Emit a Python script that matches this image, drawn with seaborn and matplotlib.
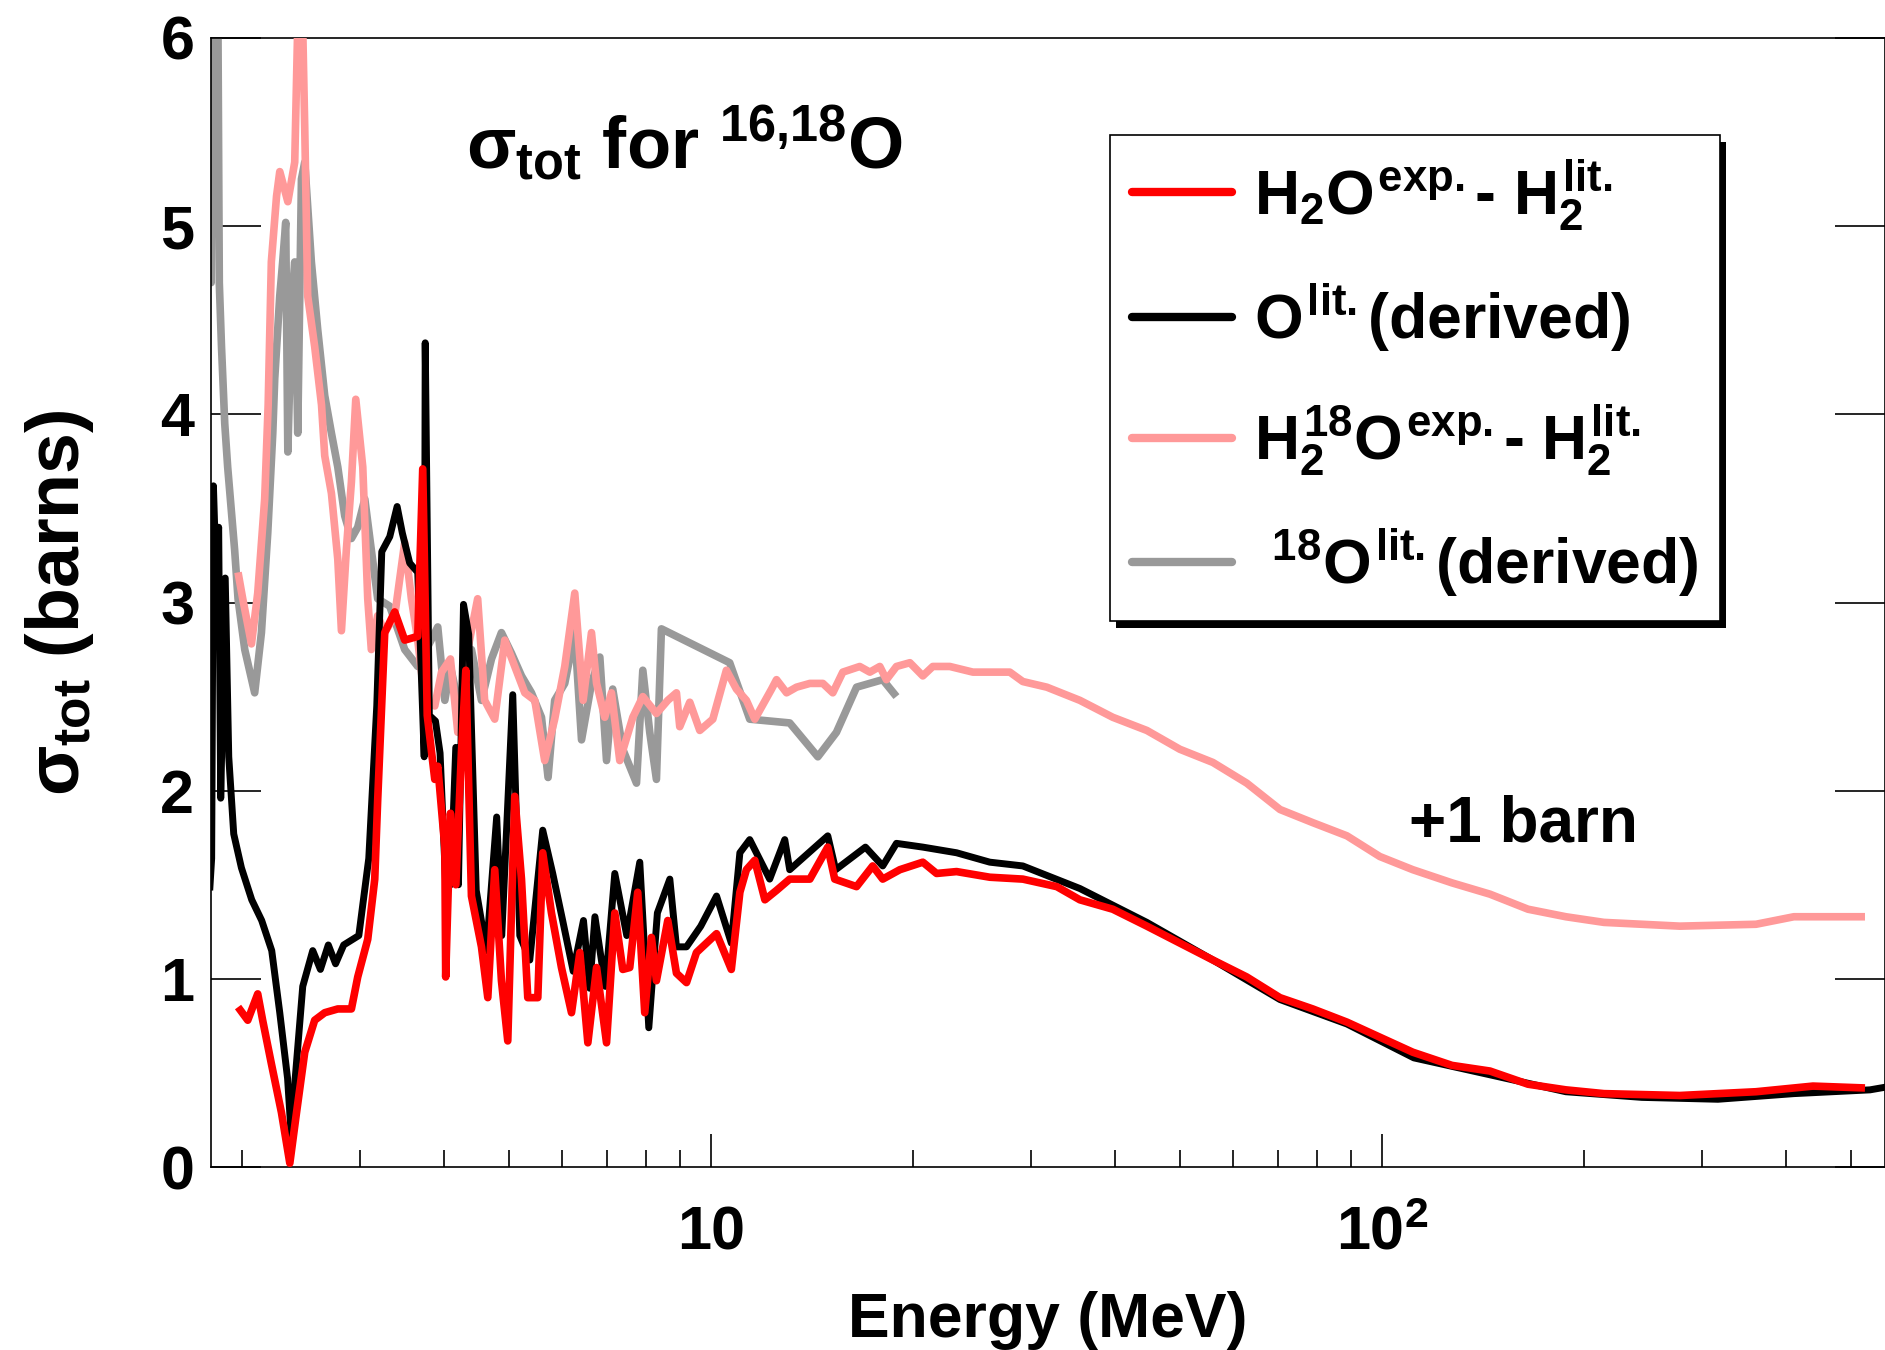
import matplotlib
matplotlib.use("Agg")
import matplotlib.pyplot as plt
import matplotlib.transforms as mtransforms
from matplotlib.patches import Rectangle
from matplotlib.lines import Line2D
from matplotlib.ticker import FixedLocator, FixedFormatter, LogLocator, NullFormatter, NullLocator
import numpy as np
import pandas as pd
import seaborn as sns

# ---------------- data ----------------
# H2O(exp.) - H2(lit.)  [red]
red_E = [1.975, 2.042, 2.113, 2.149, 2.214, 2.292, 2.359, 2.414, 2.483, 2.569, 2.659, 2.781,
         2.914, 2.978, 3.082, 3.157, 3.189, 3.267, 3.381, 3.499, 3.659, 3.722, 3.78, 3.879,
         3.919, 4.015, 4.027, 4.093, 4.17, 4.25, 4.315, 4.399, 4.553, 4.653, 4.765, 4.876,
         4.983, 5.104, 5.223, 5.337, 5.524, 5.618, 5.789, 5.991, 6.201, 6.381, 6.559, 6.758,
         6.993, 7.194, 7.394, 7.573, 7.783, 7.972, 8.157, 8.299, 8.628, 8.889, 9.201, 9.521,
         10.20, 10.73, 11.05, 11.30, 11.63, 12.04, 12.53, 13.11, 14.05, 14.94, 15.30, 16.49,
         17.43, 18.04, 19.13, 20.70, 21.70, 23.24, 26.05, 29.17, 32.78, 35.48, 39.72, 44.65,
         50.0, 56.0, 62.9, 70.5, 78.9, 88.7, 99.3, 111.2, 127.2, 144.9, 165.1, 188.0, 214.2,
         278.0, 361.0, 438.9, 524.7]
red_sigma = [0.85, 0.78, 0.92, 0.78, 0.55, 0.29, 0.02, 0.29, 0.61, 0.78, 0.82, 0.84,
             0.84, 1.01, 1.21, 1.53, 1.95, 2.84, 2.95, 2.80, 2.82, 3.71, 2.40, 2.06,
             2.13, 1.70, 1.01, 1.88, 1.50, 2.20, 2.64, 1.44, 1.17, 0.90, 1.58, 0.99,
             0.67, 1.97, 1.53, 0.90, 0.90, 1.67, 1.35, 1.06, 0.82, 1.14, 0.66, 1.06,
             0.66, 1.35, 1.05, 1.06, 1.46, 0.82, 1.22, 0.99, 1.31, 1.03, 0.98, 1.14,
             1.24, 1.05, 1.46, 1.58, 1.63, 1.42, 1.47, 1.53, 1.53, 1.70, 1.53, 1.49,
             1.60, 1.53, 1.58, 1.62, 1.56, 1.57, 1.54, 1.53, 1.49, 1.42, 1.37, 1.28,
             1.19, 1.10, 1.01, 0.90, 0.84, 0.77, 0.69, 0.61, 0.54, 0.51, 0.44, 0.41, 0.39,
             0.38, 0.40, 0.43, 0.42]

# O(lit.) derived  [black]
blk_E = [1.792, 1.804, 1.815, 1.83, 1.848, 1.861, 1.890, 1.913, 1.946, 1.998, 2.070, 2.142,
         2.217, 2.279, 2.341, 2.375, 2.403, 2.466, 2.552, 2.62, 2.692, 2.76, 2.838, 2.989,
         3.093, 3.179, 3.234, 3.324, 3.409, 3.470, 3.559, 3.659, 3.741, 3.754, 3.807, 3.888,
         3.95, 4.027, 4.097, 4.169, 4.207, 4.281, 4.358, 4.472, 4.632, 4.797, 4.881, 5.069,
         5.193, 5.374, 5.618, 5.814, 6.016, 6.238, 6.461, 6.60, 6.72, 6.964, 7.194, 7.496,
         7.838, 8.084, 8.326, 8.689, 8.889, 9.201, 9.663, 10.20, 10.73, 11.05, 11.43, 12.24,
         12.89, 13.11, 14.94, 15.35, 17.0, 18.04, 18.91, 20.70, 23.24, 26.05, 29.17, 35.48,
         44.65, 56.0, 70.5, 88.7, 111.6, 144.9, 188.0, 244.1, 316.8, 411.1, 533.8, 575.0]
blk_sigma = [1.47, 1.64, 3.62, 3.20, 3.40, 1.96, 3.13, 2.18, 1.77, 1.59, 1.42, 1.31,
             1.15, 0.82, 0.47, 0.12, 0.47, 0.96, 1.15, 1.05, 1.18, 1.08, 1.18, 1.23,
             1.64, 2.45, 3.27, 3.35, 3.51, 3.37, 3.21, 3.16, 2.18, 4.38, 2.40, 2.37,
             2.20, 1.50, 1.50, 2.23, 1.50, 2.99, 2.83, 1.47, 1.15, 1.86, 1.23, 2.51,
             1.23, 1.10, 1.79, 1.56, 1.31, 1.04, 1.31, 0.95, 1.33, 0.96, 1.56, 1.23,
             1.62, 0.74, 1.35, 1.53, 1.17, 1.17, 1.28, 1.44, 1.19, 1.67, 1.74, 1.53,
             1.74, 1.58, 1.76, 1.58, 1.70, 1.60, 1.72, 1.70, 1.67, 1.62, 1.60, 1.48,
             1.30, 1.10, 0.89, 0.76, 0.58, 0.49, 0.40, 0.37, 0.36, 0.39, 0.41, 0.43]

# H2-18O(exp.) - H2(lit.), shown +1 barn  [pink]
pink_E = [1.975, 2.007, 2.068, 2.113, 2.164, 2.190, 2.214, 2.254, 2.279, 2.343, 2.399, 2.432,
          2.458, 2.483, 2.508, 2.569, 2.630, 2.659, 2.721, 2.781, 2.816, 2.864, 2.914, 2.958,
          3.030, 3.082, 3.120, 3.189, 3.267, 3.381, 3.499, 3.580, 3.659, 3.748, 3.879, 3.970,
          4.093, 4.198, 4.343, 4.494, 4.603, 4.765, 4.932, 5.104, 5.283, 5.467, 5.656, 5.853,
          6.059, 6.271, 6.453, 6.641, 6.758, 6.950, 7.112, 7.318, 7.653, 7.920, 8.299, 8.628,
          8.889, 8.990, 9.305, 9.630, 10.07, 10.55, 10.92, 11.30, 11.63, 12.32, 12.53, 12.97,
          13.42, 14.05, 14.69, 15.20, 15.73, 16.67, 17.26, 17.86, 18.27, 18.91, 19.80, 20.70,
          21.42, 22.71, 24.58, 27.9, 29.17, 31.68, 35.48, 39.72, 44.65, 50.0, 56.0, 62.9,
          70.5, 78.9, 88.7, 99.3, 111.2, 127.2, 144.9, 165.1, 188.0, 214.2, 278.0, 361.0,
          411.1, 524.7]
pink_sigma = [3.16, 3.02, 2.78, 3.05, 3.55, 4.05, 4.81, 5.16, 5.29, 5.13, 5.34, 6.30,
              6.30, 5.52, 4.63, 4.36, 4.05, 3.78, 3.58, 3.23, 2.85, 3.28, 3.64, 4.08,
              3.72, 3.02, 2.75, 2.93, 2.84, 2.93, 3.32, 3.02, 2.80, 2.48, 2.45, 2.63,
              2.70, 2.31, 2.75, 3.02, 2.48, 2.38, 2.80, 2.66, 2.52, 2.48, 2.16, 2.38,
              2.66, 3.05, 2.48, 2.84, 2.57, 2.39, 2.52, 2.16, 2.39, 2.50, 2.41, 2.48,
              2.52, 2.34, 2.47, 2.32, 2.38, 2.64, 2.54, 2.48, 2.38, 2.54, 2.59, 2.52,
              2.55, 2.57, 2.57, 2.52, 2.63, 2.66, 2.63, 2.66, 2.59, 2.66, 2.68, 2.61,
              2.66, 2.66, 2.63, 2.63, 2.58, 2.55, 2.48, 2.39, 2.32, 2.22, 2.15, 2.04,
              1.90, 1.83, 1.76, 1.65, 1.58, 1.51, 1.45, 1.37, 1.33, 1.30, 1.28, 1.29,
              1.33, 1.33]

# 18O(lit.) derived, shown +1 barn  [grey]
grey_E = [1.792, 1.801, 1.811, 1.842, 1.852, 1.866, 1.887, 1.906, 1.952, 1.975, 2.021, 2.091,
          2.140, 2.187, 2.225, 2.240, 2.279, 2.302, 2.326, 2.343, 2.375, 2.399, 2.424, 2.455,
          2.483, 2.540, 2.596, 2.659, 2.721, 2.781, 2.848, 2.914, 2.978, 3.051, 3.120, 3.189,
          3.324, 3.499, 3.659, 3.919, 4.015, 4.093, 4.251, 4.399, 4.553, 4.712, 4.876, 5.047,
          5.223, 5.405, 5.594, 5.722, 5.853, 6.059, 6.271, 6.418, 6.641, 6.834, 6.993, 7.143,
          7.394, 7.750, 7.920, 8.111, 8.299, 8.442, 10.67, 11.43, 13.11, 14.44, 15.39, 16.49,
          18.04, 18.91]
grey_sigma = [5.05, 4.70, 6.30, 6.30, 4.70, 4.36, 3.95, 3.72, 3.28, 3.02, 2.75, 2.52,
              2.84, 3.37, 3.90, 4.19, 4.63, 4.81, 5.02, 3.80, 4.60, 4.81, 3.90, 5.25,
              5.34, 4.81, 4.45, 4.10, 3.90, 3.72, 3.46, 3.34, 3.40, 3.55, 3.28, 3.02,
              2.98, 2.75, 2.66, 2.87, 2.48, 2.66, 2.39, 2.75, 2.48, 2.70, 2.84, 2.73,
              2.61, 2.52, 2.39, 2.07, 2.48, 2.57, 2.84, 2.27, 2.57, 2.71, 2.16, 2.54,
              2.22, 2.04, 2.64, 2.31, 2.06, 2.86, 2.68, 2.38, 2.36, 2.18, 2.31, 2.55,
              2.59, 2.50]

labels = [r"$H_2O^{exp.}$- $H_2^{lit.}$",
          r"$O^{lit.}$(derived)",
          r"$H_2^{18}O^{exp.}$- $H_2^{lit.}$",
          r" $^{18}O^{lit.}$(derived)"]
colors = ["#ff0000", "#000000", "#ff9999", "#999999"]

x_major = [10, 100]
x_major_labels = ["10", r"$10^2$"]
y_ticks = [0, 1, 2, 3, 4, 5, 6]

# ---------------- style ----------------
sns.set_theme(style="white")
plt.rcParams["font.family"] = ["Liberation Sans", "DejaVu Sans"]
plt.rcParams["font.weight"] = "bold"
plt.rcParams["mathtext.fontset"] = "custom"
plt.rcParams["mathtext.rm"] = "Liberation Sans:bold"
plt.rcParams["mathtext.it"] = "Liberation Sans:bold"
plt.rcParams["mathtext.bf"] = "Liberation Sans:bold"
plt.rcParams["mathtext.sf"] = "Liberation Sans:bold"
plt.rcParams["axes.edgecolor"] = "black"
plt.rcParams["axes.linewidth"] = 1.2
plt.rcParams["text.color"] = "black"
plt.rcParams["axes.labelcolor"] = "black"
plt.rcParams["xtick.color"] = "black"
plt.rcParams["ytick.color"] = "black"

fig = plt.figure(figsize=(18.85, 13.5), dpi=100)
W, H = 1885.0, 1350.0
ax = fig.add_axes([211 / W, 1 - 1167 / H, (1885 - 211) / W, (1167 - 38) / H])

series = [
    (grey_E, grey_sigma, colors[3], 5.5),
    (pink_E, pink_sigma, colors[2], 5.5),
    (blk_E, blk_sigma, colors[1], 5.0),
    (red_E, red_sigma, colors[0], 5.5),
]
for z, (e, s, c, lw) in enumerate(series):
    df = pd.DataFrame({"E": e, "sigma": s})
    sns.lineplot(data=df, x="E", y="sigma", ax=ax, color=c, lw=lw, sort=False,
                 estimator=None, legend=False, zorder=2 + z,
                 solid_joinstyle="round", solid_capstyle="butt")

ax.set_xscale("log")
ax.set_xlim(1.8, 562)
ax.set_ylim(0, 6)

ax.xaxis.set_major_locator(FixedLocator(x_major))
ax.xaxis.set_major_formatter(FixedFormatter(x_major_labels))
ax.xaxis.set_minor_locator(LogLocator(base=10, subs=range(2, 10)))
ax.xaxis.set_minor_formatter(NullFormatter())
ax.yaxis.set_major_locator(FixedLocator(y_ticks))
ax.yaxis.set_minor_locator(NullLocator())

ax.tick_params(axis="y", which="major", direction="in", length=36, width=1.2,
               left=True, right=True, labelsize=44, pad=12, colors="black")
ax.tick_params(axis="x", which="major", direction="in", length=24, width=1.2,
               bottom=True, top=False, labelsize=44, pad=28, colors="black")
ax.tick_params(axis="x", which="minor", direction="in", length=12, width=1.2,
               bottom=True, top=False, colors="black")
for lab in ax.get_xticklabels() + ax.get_yticklabels():
    lab.set_fontweight("bold")

ax.set_xlabel("Energy (MeV)", fontsize=45, fontweight="bold", labelpad=20, color="black")
ax.set_ylabel(r"$\sigma_{tot}$ (barns)", fontsize=53, fontweight="bold", labelpad=46,
              color="black")

fig.text(466 / W, 1 - 168 / H, r"$\sigma_{tot}$ for $^{16{,}18}$O", fontsize=52,
         fontweight="bold", ha="left", va="baseline", color="black")
fig.text(1409 / W, 1 - 842 / H, "+1 barn", fontsize=46, fontweight="bold",
         ha="left", va="baseline", color="black")

handles = [Line2D([], [], color=c, lw=6) for c in colors]
leg = ax.legend(handles, labels, loc="upper left",
                bbox_to_anchor=(1110 / W, 1 - 135 / H), bbox_transform=fig.transFigure,
                borderaxespad=0, fontsize=45, frameon=True, fancybox=False,
                framealpha=1, edgecolor="black", handlelength=1.6,
                handletextpad=0.35, labelspacing=0.78, borderpad=0.35)
leg.get_frame().set_linewidth(1.2)
leg.set_zorder(20)
for t in leg.get_texts():
    t.set_fontweight("bold")
    t.set_color("black")

fig.canvas.draw()
bb = leg.get_frame().get_window_extent(fig.canvas.get_renderer())
shadow = Rectangle((bb.x0 + 6, bb.y0 - 7), bb.width, bb.height, facecolor="black",
                   edgecolor="none", transform=mtransforms.IdentityTransform(),
                   zorder=19, clip_on=False)
ax.add_artist(shadow)

fig.savefig("out.png", dpi=100)
